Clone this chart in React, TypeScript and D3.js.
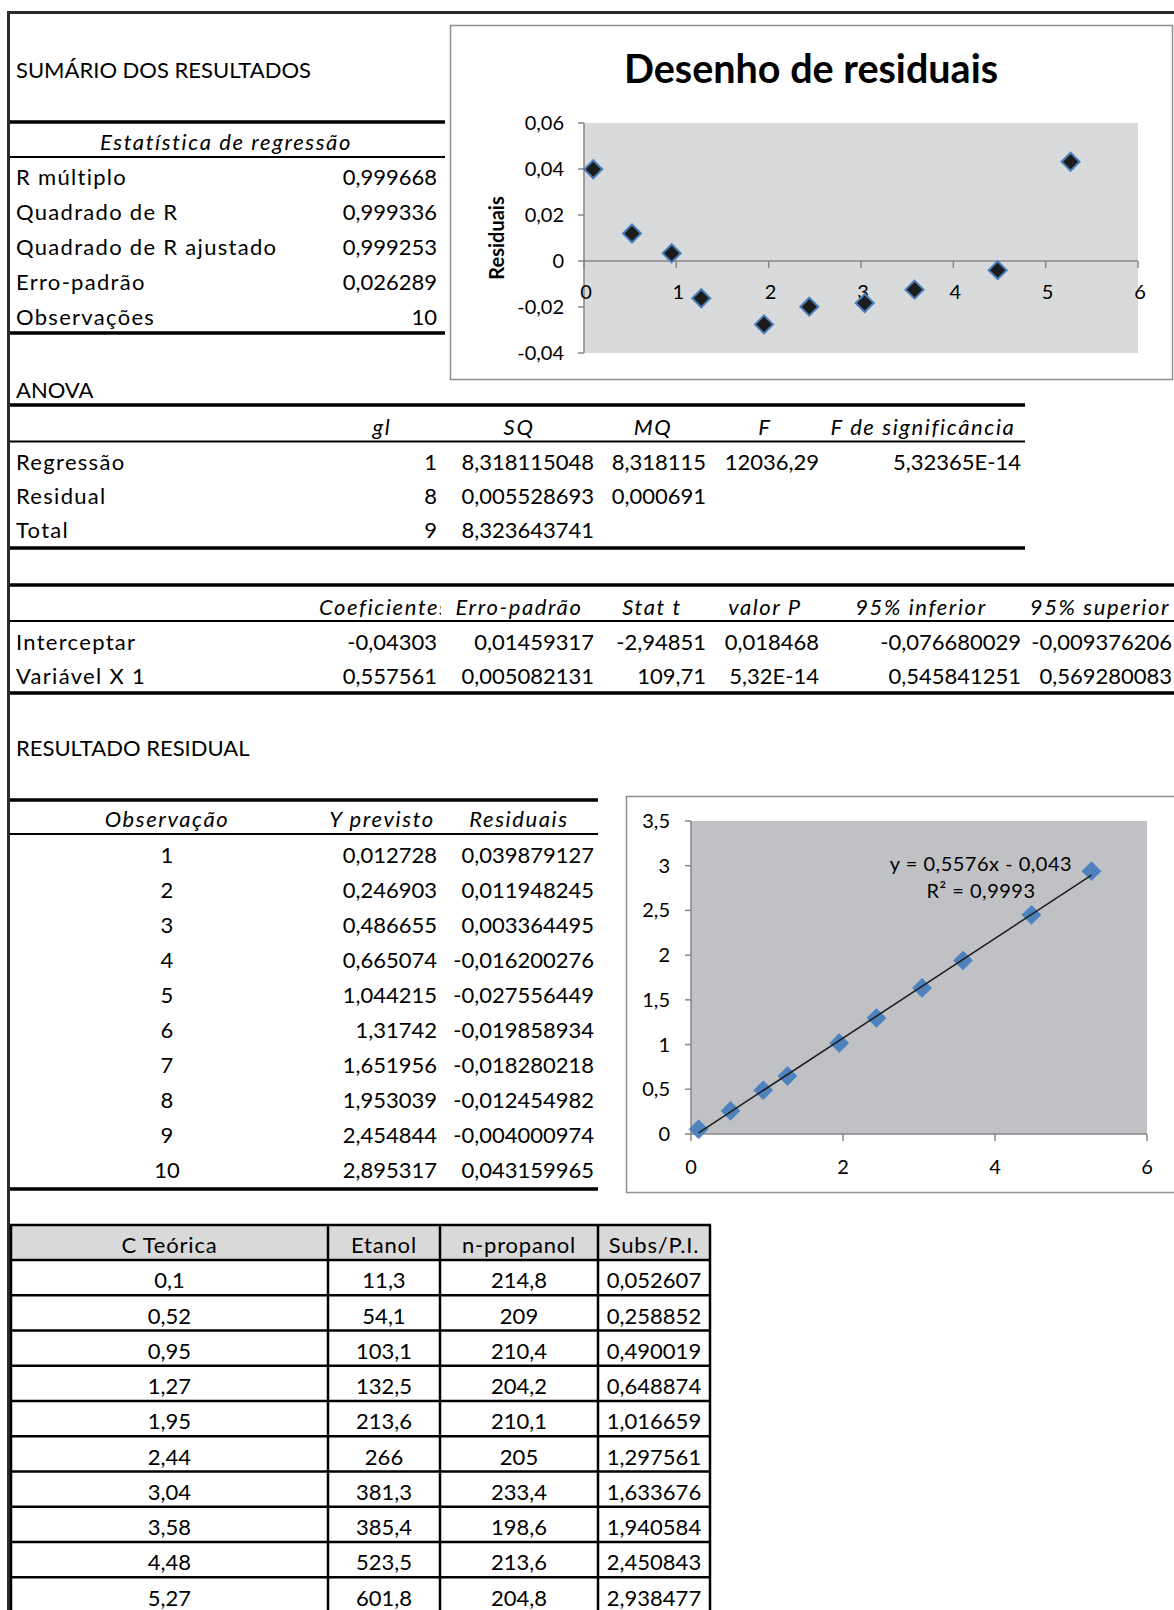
import React from "react";
import * as d3 from "d3";

// ---------- DATA ----------
const summaryLabels = ["R múltiplo", "Quadrado de R", "Quadrado de R ajustado", "Erro-padrão", "Observações"];
const summaryValues = ["0,999668", "0,999336", "0,999253", "0,026289", "10"];

const anovaHeaders = ["gl", "SQ", "MQ", "F", "F de significância"];
const anovaLabels = ["Regressão", "Residual", "Total"];
const anovaGl = ["1", "8", "9"];
const anovaSQ = ["8,318115048", "0,005528693", "8,323643741"];
const anovaMQ = ["8,318115", "0,000691", ""];
const anovaF = ["12036,29", "", ""];
const anovaFsig = ["5,32365E-14", "", ""];

const coefHeaders = ["Coeficientes", "Erro-padrão", "Stat t", "valor P", "95% inferior", "95% superior"];
const coefLabels = ["Interceptar", "Variável X 1"];
const coefValues = [-0.04303, 0.557561];
const coefErr = ["0,01459317", "0,005082131"];
const coefStat = ["-2,94851", "109,71"];
const coefP = ["0,018468", "5,32E-14"];
const coefLow = ["-0,076680029", "0,545841251"];
const coefHigh = ["-0,009376206", "0,569280083"];

const residHeaders = ["Observação", "Y previsto", "Residuais"];
const observations = [1, 2, 3, 4, 5, 6, 7, 8, 9, 10];
const yPrevisto = [0.012728, 0.246903, 0.486655, 0.665074, 1.044215, 1.31742, 1.651956, 1.953039, 2.454844, 2.895317];
const residuais = [0.039879127, 0.011948245, 0.003364495, -0.016200276, -0.027556449, -0.019858934, -0.018280218, -0.012454982, -0.004000974, 0.043159965];

const dataHeaders = ["C Teórica", "Etanol", "n-propanol", "Subs/P.I."];
const cTeorica = [0.1, 0.52, 0.95, 1.27, 1.95, 2.44, 3.04, 3.58, 4.48, 5.27];
const etanol = [11.3, 54.1, 103.1, 132.5, 213.6, 266, 381.3, 385.4, 523.5, 601.8];
const nPropanol = [214.8, 209, 210.4, 204.2, 210.1, 205, 233.4, 198.6, 213.6, 204.8];
const subsPI = [0.052607, 0.258852, 0.490019, 0.648874, 1.016659, 1.297561, 1.633676, 1.940584, 2.450843, 2.938477];

const resTicksY = [-0.04, -0.02, 0, 0.02, 0.04, 0.06];
const resTicksX = [0, 1, 2, 3, 4, 5, 6];
const fitTicksY = [0, 0.5, 1, 1.5, 2, 2.5, 3, 3.5];
const fitTicksX = [0, 2, 4, 6];
const trendEquation = "y = 0,5576x - 0,043";
const trendR2 = "R² = 0,9993";

// ---------- HELPERS ----------
const FONT = "Lato, 'Open Sans', 'DejaVu Sans', sans-serif";
const fmt = (v: number) => String(v).replace(".", ",");
const diamond = (r: number) => `M0,${-r}L${r},0L0,${r}L${-r},0Z`;
const TXT = 22;
const LS = 1.3; // letter spacing for word labels
const LSI = 1.6; // letter spacing for italic headers

export default function App() {
  // residual chart scales
  const rx = d3.scaleLinear().domain([0, 6]).range([584, 1138]);
  const ry = d3.scaleLinear().domain([-0.04, 0.06]).range([353, 123]);
  // fit chart scales
  const fx = d3.scaleLinear().domain([0, 6]).range([691, 1147]);
  const fy = d3.scaleLinear().domain([0, 3.5]).range([1134, 821]);
  const slope = coefValues[1];
  const intercept = coefValues[0];
  const xExt = d3.extent(cTeorica) as [number, number];
  const trendLine = d3
    .line<number>()
    .x((d) => fx(d))
    .y((d) => fy(slope * d + intercept))(xExt) as string;

  const anovaCols = [anovaGl, anovaSQ, anovaMQ, anovaF, anovaFsig];
  const anovaRight = [437, 594, 706, 819, 1021];
  const anovaCenters = [382, 519, 653, 765, 923];
  const coefCols = [coefValues.map(fmt), coefErr, coefStat, coefP, coefLow];
  const coefCenters = [519, 652, 765, 921, 1100];

  const tCols = [cTeorica, etanol, nPropanol, subsPI];
  const tEdges = [11, 328, 440, 598, 710];
  const tTop = 1225;
  const tHead = 1260;
  const tRowH = 35.25;
  const rowEdges = d3.range(0, cTeorica.length + 1).map((i) => tHead + i * tRowH);

  return (
    <svg
      width={1174}
      height={1610}
      style={{ position: "absolute", left: 0, top: 0, background: "#fff" }}
      fontFamily={FONT}
    >
      <rect x={0} y={0} width={1174} height={1610} fill="#fff" />
      {/* frame */}
      <line x1={7} x2={1174} y1={12.5} y2={12.5} stroke="#2b2b2b" strokeWidth={3} />
      <line x1={8.5} x2={8.5} y1={11} y2={1610} stroke="#2b2b2b" strokeWidth={3} />

      {/* ---------- summary ---------- */}
      <text x={16} y={78} fontSize={TXT}>SUMÁRIO DOS RESULTADOS</text>
      <line x1={10} x2={445} y1={122} y2={122} stroke="#000" strokeWidth={3.5} />
      <text x={226} y={150} fontSize={TXT} fontStyle="italic" textAnchor="middle" letterSpacing={LSI}>Estatística de regressão</text>
      <line x1={10} x2={445} y1={157} y2={157} stroke="#000" strokeWidth={2} />
      {summaryLabels.map((l, i) => (
        <g key={l}>
          <text x={16} y={185 + i * 35} fontSize={TXT} letterSpacing={LS}>{l}</text>
          <text x={437} y={185 + i * 35} fontSize={TXT} textAnchor="end">{summaryValues[i]}</text>
        </g>
      ))}
      <line x1={10} x2={445} y1={333} y2={333} stroke="#000" strokeWidth={3.5} />

      {/* ---------- residual chart ---------- */}
      <rect x={450.5} y={25.5} width={722} height={354} fill="#fff" stroke="#8f8f8f" strokeWidth={1.5} />
      <text x={811} y={83} fontSize={39.5} fontWeight="bold" textAnchor="middle">Desenho de residuais</text>
      <rect x={rx(0)} y={ry(0.06)} width={rx(6) - rx(0)} height={ry(-0.04) - ry(0.06)} fill="#d9dadc" />
      <line x1={rx(0)} x2={rx(0)} y1={ry(0.06)} y2={ry(-0.04)} stroke="#868686" strokeWidth={1.5} />
      {resTicksY.map((t) => (
        <g key={t}>
          <line x1={rx(0) - 6} x2={rx(0)} y1={ry(t)} y2={ry(t)} stroke="#868686" strokeWidth={1.5} />
          <text x={564} y={ry(t) + 7} fontSize={20} textAnchor="end">{t === 0 ? "0" : t.toFixed(2).replace(".", ",")}</text>
        </g>
      ))}
      <line x1={rx(0)} x2={rx(6)} y1={ry(0)} y2={ry(0)} stroke="#868686" strokeWidth={1.5} />
      {resTicksX.map((t) => (
        <g key={t}>
          <line x1={rx(t)} x2={rx(t)} y1={ry(0)} y2={ry(0) + 7} stroke="#868686" strokeWidth={1.5} />
          <text x={rx(t) + 2} y={299} fontSize={20} textAnchor="middle">{t}</text>
        </g>
      ))}
      <text
        transform="translate(496,238) rotate(-90)"
        fontSize={20}
        fontWeight="bold"
        textAnchor="middle"
        dominantBaseline="central"
      >
        Residuais
      </text>
      {cTeorica.map((x, i) => (
        <path
          key={i}
          d={diamond(9)}
          transform={`translate(${rx(x)},${ry(residuais[i])})`}
          fill="#1c1c1c"
          stroke="#4a7ebb"
          strokeWidth={2}
        />
      ))}

      {/* ---------- ANOVA ---------- */}
      <text x={16} y={398} fontSize={TXT}>ANOVA</text>
      <line x1={10} x2={1025} y1={405} y2={405} stroke="#000" strokeWidth={3.5} />
      {anovaHeaders.map((h, j) => (
        <text key={h} x={anovaCenters[j]} y={435} fontSize={TXT} fontStyle="italic" textAnchor="middle" letterSpacing={LSI}>{h}</text>
      ))}
      <line x1={10} x2={1025} y1={441.5} y2={441.5} stroke="#000" strokeWidth={2} />
      {anovaLabels.map((l, i) => (
        <g key={l}>
          <text x={16} y={470 + i * 34} fontSize={TXT} letterSpacing={LS}>{l}</text>
          {anovaCols.map((col, j) => (
            <text key={j} x={anovaRight[j]} y={470 + i * 34} fontSize={TXT} textAnchor="end">{col[i]}</text>
          ))}
        </g>
      ))}
      <line x1={10} x2={1025} y1={548} y2={548} stroke="#000" strokeWidth={3.5} />

      {/* ---------- coefficients ---------- */}
      <line x1={10} x2={1174} y1={585} y2={585} stroke="#000" strokeWidth={3.5} />
      <defs>
        <clipPath id="coefclip">
          <rect x={0} y={590} width={441} height={40} />
        </clipPath>
      </defs>
      <text x={319} y={615} fontSize={TXT} fontStyle="italic" letterSpacing={LSI} clipPath="url(#coefclip)">{coefHeaders[0]}</text>
      {coefHeaders.slice(1).map((h, j) => (
        <text key={h} x={coefCenters[j]} y={615} fontSize={TXT} fontStyle="italic" textAnchor="middle" letterSpacing={LSI}>{h}</text>
      ))}
      <line x1={10} x2={1174} y1={621} y2={621} stroke="#000" strokeWidth={2} />
      {coefLabels.map((l, i) => (
        <g key={l}>
          <text x={16} y={650 + i * 34} fontSize={TXT} letterSpacing={LS}>{l}</text>
          {coefCols.map((col, j) => (
            <text key={j} x={anovaRight[j]} y={650 + i * 34} fontSize={TXT} textAnchor="end">{col[i]}</text>
          ))}
          <text x={1172} y={650 + i * 34} fontSize={TXT} textAnchor="end">{coefHigh[i]}</text>
        </g>
      ))}
      <line x1={10} x2={1174} y1={693} y2={693} stroke="#000" strokeWidth={3.5} />

      {/* ---------- residual output ---------- */}
      <text x={16} y={756} fontSize={TXT}>RESULTADO RESIDUAL</text>
      <line x1={10} x2={598} y1={800} y2={800} stroke="#000" strokeWidth={3.5} />
      {residHeaders.map((h, j) => (
        <text key={h} x={[167, 382, 519][j]} y={827} fontSize={TXT} fontStyle="italic" textAnchor="middle" letterSpacing={LSI}>{h}</text>
      ))}
      <line x1={10} x2={598} y1={834} y2={834} stroke="#000" strokeWidth={2} />
      {observations.map((o, i) => (
        <g key={o}>
          <text x={167} y={863 + i * 35} fontSize={TXT} textAnchor="middle">{o}</text>
          <text x={437} y={863 + i * 35} fontSize={TXT} textAnchor="end">{fmt(yPrevisto[i])}</text>
          <text x={594} y={863 + i * 35} fontSize={TXT} textAnchor="end">{fmt(residuais[i])}</text>
        </g>
      ))}
      <line x1={10} x2={598} y1={1189} y2={1189} stroke="#000" strokeWidth={3.5} />

      {/* ---------- fit chart ---------- */}
      <rect x={626.5} y={796.5} width={560} height={396} fill="#fff" stroke="#8f8f8f" strokeWidth={1.5} />
      <rect x={fx(0)} y={fy(3.5)} width={fx(6) - fx(0)} height={fy(0) - fy(3.5)} fill="#c0c1c4" />
      <line x1={fx(0)} x2={fx(0)} y1={fy(3.5)} y2={fy(0)} stroke="#868686" strokeWidth={1.5} />
      {fitTicksY.map((t) => (
        <g key={t}>
          <line x1={fx(0) - 6} x2={fx(0)} y1={fy(t)} y2={fy(t)} stroke="#868686" strokeWidth={1.5} />
          <text x={670} y={fy(t) + 7} fontSize={20} textAnchor="end">{fmt(t)}</text>
        </g>
      ))}
      <line x1={fx(0)} x2={fx(6)} y1={fy(0)} y2={fy(0)} stroke="#868686" strokeWidth={1.5} />
      {fitTicksX.map((t) => (
        <g key={t}>
          <line x1={fx(t)} x2={fx(t)} y1={fy(0)} y2={fy(0) + 7} stroke="#868686" strokeWidth={1.5} />
          <text x={fx(t)} y={1174} fontSize={20} textAnchor="middle">{t}</text>
        </g>
      ))}
      {cTeorica.map((x, i) => (
        <path
          key={i}
          d={diamond(9.5)}
          transform={`translate(${fx(x)},${fy(subsPI[i])})`}
          fill="#4f81bd"
          stroke="#5b8cc6"
          strokeWidth={1}
        />
      ))}
      <path d={trendLine} stroke="#1a1a1a" strokeWidth={1.5} fill="none" />
      <text x={981} y={871} fontSize={20} textAnchor="middle" letterSpacing={0.5}>{trendEquation}</text>
      <text x={981} y={898} fontSize={20} textAnchor="middle" letterSpacing={0.5}>{trendR2}</text>

      {/* ---------- data table ---------- */}
      <rect x={tEdges[0]} y={tTop} width={tEdges[4] - tEdges[0]} height={tHead - tTop} fill="#d9d9d9" />
      {dataHeaders.map((h, j) => (
        <text key={h} x={(tEdges[j] + tEdges[j + 1]) / 2} y={1253} fontSize={TXT} textAnchor="middle" letterSpacing={0.8}>{h}</text>
      ))}
      {cTeorica.map((_, i) =>
        tCols.map((col, j) => (
          <text
            key={`${i}-${j}`}
            x={(tEdges[j] + tEdges[j + 1]) / 2}
            y={rowEdges[i + 1] - 7}
            fontSize={TXT}
            textAnchor="middle"
          >
            {fmt(col[i])}
          </text>
        ))
      )}
      {[tTop, ...rowEdges].map((y, i) => (
        <line key={`h${i}`} x1={tEdges[0] - 1} x2={tEdges[4] + 1} y1={y} y2={y} stroke="#000" strokeWidth={2.5} />
      ))}
      {tEdges.map((x, i) => (
        <line key={`v${i}`} x1={x} x2={x} y1={tTop} y2={1610} stroke="#000" strokeWidth={2.5} />
      ))}
    </svg>
  );
}
